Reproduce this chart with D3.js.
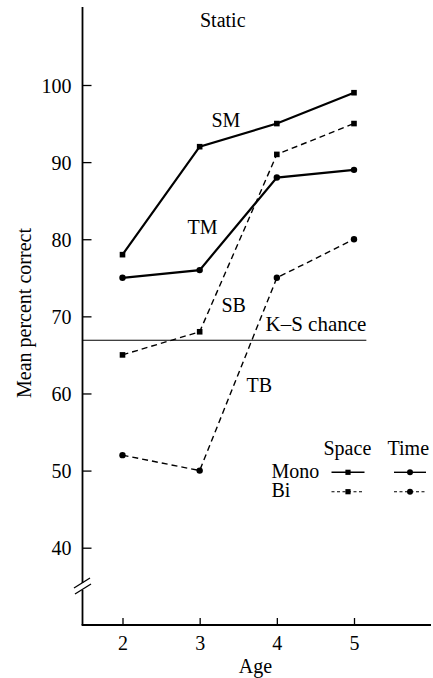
<!DOCTYPE html>
<html><head><meta charset="utf-8">
<script src="https://cdn.jsdelivr.net/npm/d3@7"></script>
<style>
html,body{margin:0;padding:0;background:#fff;}
svg{display:block;}
</style></head>
<body>
<svg id="c" width="433" height="678" font-family="Liberation Serif"></svg>
<script>
const ages = [2, 3, 4, 5];
const spaceMono = [78, 92, 95, 99];
const spaceBi   = [65, 68, 91, 95];
const timeMono  = [75, 76, 88, 89];
const timeBi    = [52, 50, 75, 80];
const yTicks = [40, 50, 60, 70, 80, 90, 100];
const chance = 66.9;
const chanceEnd = 5.16;
const FONT = "Liberation Serif";

const svg = d3.select("#c");
const x = d3.scaleLinear().domain([2, 5]).range([122.5, 354]);
const y = d3.scaleLinear().domain([40, 100]).range([547.7, 85]);
const axX = 82.5, axBottom = 625;

// Y axis line with break
const ax = svg.append("g").attr("stroke", "#000").attr("stroke-width", 1.8).attr("fill", "none");
ax.append("line").attr("x1", axX).attr("x2", axX).attr("y1", 7).attr("y2", 583);
ax.append("line").attr("x1", axX).attr("x2", axX).attr("y1", 590).attr("y2", axBottom);
ax.append("line").attr("x1", 74).attr("y1", 588).attr("x2", 90).attr("y2", 578).attr("stroke-width", 1.3);
ax.append("line").attr("x1", 75).attr("y1", 594).attr("x2", 91).attr("y2", 584).attr("stroke-width", 1.3);
// X axis line
ax.append("line").attr("x1", axX - 0.9).attr("x2", 431).attr("y1", axBottom).attr("y2", axBottom);

// Y ticks
const yAxis = d3.axisLeft(y).tickValues(yTicks).tickSizeInner(-9).tickSizeOuter(0).tickPadding(11);
const gy = svg.append("g").attr("transform", `translate(${axX},0)`).call(yAxis);
gy.attr("font-family", FONT).attr("font-size", 20);
gy.select(".domain").remove();
gy.selectAll(".tick line").attr("stroke", "#000").attr("stroke-width", 1.3);
gy.selectAll(".tick text").attr("font-size", 20).attr("font-family", FONT).attr("dy", "0.35em").attr("fill", "#000");

// X ticks
const xAxis = d3.axisBottom(x).tickValues(ages).tickFormat(d3.format("d")).tickSizeInner(-7).tickSizeOuter(0).tickPadding(11);
const gx = svg.append("g").attr("transform", `translate(0,${axBottom})`).call(xAxis);
gx.attr("font-family", FONT).attr("font-size", 20);
gx.select(".domain").remove();
gx.selectAll(".tick line").attr("stroke", "#000").attr("stroke-width", 1.3);
gx.selectAll(".tick text").attr("font-size", 20).attr("font-family", FONT).attr("dy", "0.71em").attr("fill", "#000");

// chance line
svg.append("line").attr("x1", axX).attr("x2", x(chanceEnd)).attr("y1", y(chance)).attr("y2", y(chance))
  .attr("stroke", "#000").attr("stroke-width", 1.2);

const line = d3.line().x((d, i) => x(ages[i])).y(d => y(d));
const series = [
  {v: spaceMono, dash: null, sym: "sq"},
  {v: spaceBi, dash: "6,4", sym: "sq"},
  {v: timeMono, dash: null, sym: "ci"},
  {v: timeBi, dash: "6,4", sym: "ci"}
];
series.forEach(s => {
  svg.append("path").attr("d", line(s.v)).attr("fill", "none").attr("stroke", "#000")
    .attr("stroke-width", s.dash ? 1.4 : 2.2).attr("stroke-dasharray", s.dash);
  s.v.forEach((d, i) => {
    if (s.sym === "sq") svg.append("rect").attr("x", x(ages[i]) - 2.8).attr("y", y(d) - 2.8).attr("width", 5.6).attr("height", 5.6).attr("fill", "#000");
    else svg.append("circle").attr("cx", x(ages[i])).attr("cy", y(d)).attr("r", 3.2).attr("fill", "#000");
  });
});

function txt(t, px, py, opts = {}) {
  const e = svg.append("text").attr("x", px).attr("y", py).attr("font-family", FONT).attr("font-size", opts.size || 20).attr("fill", "#000").text(t);
  if (opts.anchor) e.attr("text-anchor", opts.anchor);
  return e;
}
txt("Static", 200, 27);
txt("SM", 211.5, 127);
txt("TM", 187.5, 234);
txt("SB", 221.5, 311.5);
txt("K–S chance", 265.5, 330.5, {size: 21});
txt("TB", 246.5, 391.5);
txt("Age", 255.5, 673, {anchor: "middle"});
svg.append("text").attr("transform", "translate(31,313) rotate(-90)").attr("text-anchor", "middle")
  .attr("font-family", FONT).attr("font-size", 20).attr("fill", "#000").text("Mean percent correct");

// legend
txt("Space", 323.5, 455);
txt("Time", 387.5, 455);
txt("Mono", 271.5, 478);
txt("Bi", 271.5, 497);
const lg = svg.append("g");
[[331.5, 364.5, 472.3, null, "sq"], [394, 426, 472.3, null, "ci"], [331.5, 364.5, 491.7, "3,2.5", "sq"], [394, 426, 491.7, "3,2.5", "ci"]].forEach(r => {
  lg.append("line").attr("x1", r[0]).attr("x2", r[1]).attr("y1", r[2]).attr("y2", r[2]).attr("stroke", "#000")
    .attr("stroke-width", r[3] ? 1.1 : 1.4).attr("stroke-dasharray", r[3]);
  const cx = (r[0] + r[1]) / 2;
  if (r[4] === "sq") lg.append("rect").attr("x", cx - 2.6).attr("y", r[2] - 2.6).attr("width", 5.2).attr("height", 5.2).attr("fill", "#000");
  else lg.append("circle").attr("cx", cx).attr("cy", r[2]).attr("r", 3).attr("fill", "#000");
});
</script>
</body></html>
